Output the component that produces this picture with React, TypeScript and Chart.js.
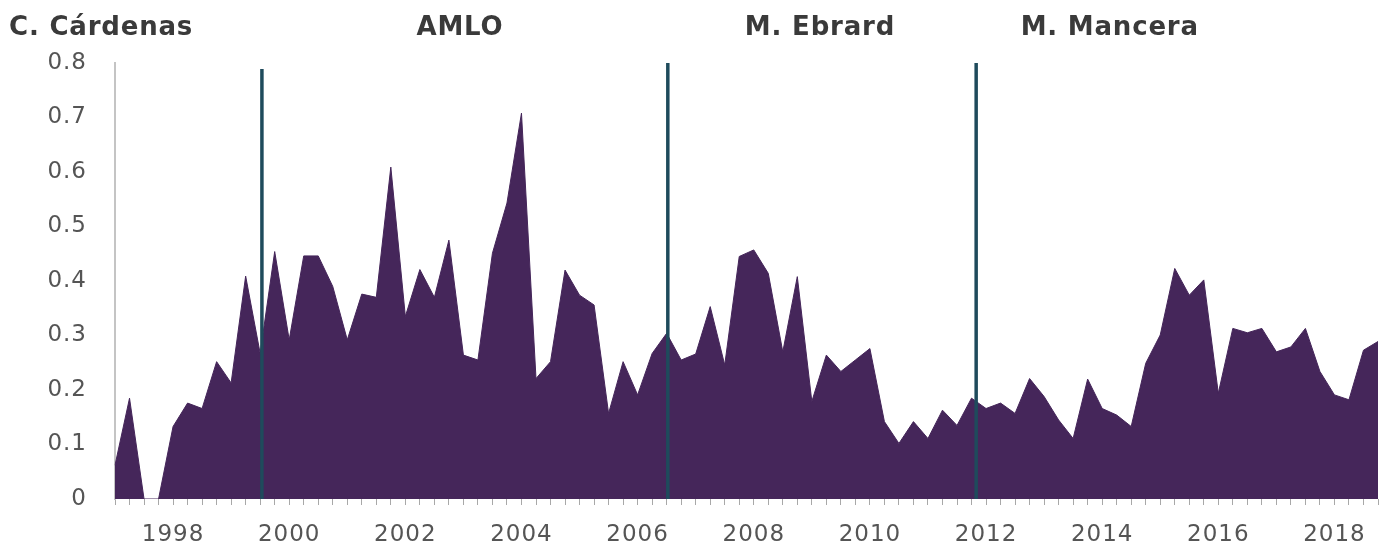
import React, { useEffect, useRef } from 'react';
import { Chart, registerables } from 'chart.js';

Chart.register(...registerables);

// Quarterly series, 1997 Q1 – 2018 Q4
const START_YEAR = 1997;
const values1997_2000 = [0.062, 0.185, 0, 0, 0.133, 0.176, 0.166, 0.252, 0.213, 0.409, 0.267, 0.454, 0.292, 0.446, 0.446, 0.390];
const values2001_2004 = [0.292, 0.376, 0.370, 0.609, 0.335, 0.421, 0.370, 0.475, 0.264, 0.255, 0.451, 0.543, 0.708, 0.221, 0.252, 0.420];
const values2005_2008 = [0.374, 0.356, 0.157, 0.252, 0.191, 0.267, 0.304, 0.255, 0.266, 0.353, 0.246, 0.445, 0.457, 0.414, 0.270, 0.408];
const values2009_2012 = [0.179, 0.264, 0.234, 0.255, 0.276, 0.142, 0.102, 0.142, 0.111, 0.163, 0.135, 0.185, 0.166, 0.176, 0.157, 0.221];
const values2013_2016 = [0.188, 0.145, 0.111, 0.220, 0.166, 0.154, 0.133, 0.249, 0.301, 0.423, 0.374, 0.402, 0.194, 0.313, 0.305, 0.313];
const values2017_2018 = [0.270, 0.279, 0.313, 0.234, 0.191, 0.182, 0.273, 0.289];

const values = [
  ...values1997_2000,
  ...values2001_2004,
  ...values2005_2008,
  ...values2009_2012,
  ...values2013_2016,
  ...values2017_2018,
];

// Category labels: "1997T1" ... one per quarter
const quarters: string[] = values.map((_, i) => `${START_YEAR + Math.floor(i / 4)}T${(i % 4) + 1}`);

// Year labels shown on the x axis (at Q1 of each)
const yearTickLabels = ['1998', '2000', '2002', '2004', '2006', '2008', '2010', '2012', '2014', '2016', '2018'];

// Y axis ticks
const yTicks = [0, 0.1, 0.2, 0.3, 0.4, 0.5, 0.6, 0.7, 0.8];

// Administration changes (decimal years) and top of each marker line
const markerYears = [1999.53, 2006.52, 2011.83];
const markerTops = [0.789, 0.8, 0.8];

// Period names and their centre (decimal years)
const periodNames = ['C. Cárdenas', 'AMLO', 'M. Ebrard', 'M. Mancera'];
const periodCenters = [1996.76, 2002.94, 2009.14, 2014.13];

const FILL = '#45265a';
const MARKER = '#1f4b5c';
const TICK_FONT = { family: '"DejaVu Sans", sans-serif', size: 23 };

const yearToIndex = (y: number) => (y - START_YEAR) * 4;

const spacing = {
  id: 'spacing',
  beforeDraw(chart: any) {
    chart.ctx.letterSpacing = '1px';
  },
};

const annotations = {
  id: 'annotations',
  afterDatasetsDraw(chart: any) {
    const { ctx, scales } = chart;
    const xs = scales.x;
    const ys = scales.y;
    ctx.save();
    ctx.strokeStyle = MARKER;
    ctx.lineWidth = 3.5;
    markerYears.forEach((yr, k) => {
      const px = xs.getPixelForValue(yearToIndex(yr));
      ctx.beginPath();
      ctx.moveTo(px, ys.getPixelForValue(markerTops[k]));
      ctx.lineTo(px, ys.getPixelForValue(0));
      ctx.stroke();
    });
    ctx.fillStyle = '#3a3a3a';
    ctx.font = 'bold 26px "DejaVu Sans", sans-serif';
    ctx.letterSpacing = '0.8px';
    ctx.textAlign = 'center';
    ctx.textBaseline = 'alphabetic';
    periodNames.forEach((name, k) => {
      const px = xs.getPixelForValue(yearToIndex(periodCenters[k]));
      ctx.fillText(name, px, 35);
    });
    ctx.restore();
  },
};

export default function App() {
  const canvasRef = useRef<HTMLCanvasElement | null>(null);

  useEffect(() => {
    if (!canvasRef.current) return;
    const chart = new Chart(canvasRef.current, {
      type: 'line',
      data: {
        labels: quarters,
        datasets: [
          {
            data: values,
            fill: 'origin',
            backgroundColor: FILL,
            borderColor: FILL,
            borderWidth: 1,
            pointRadius: 0,
            tension: 0,
          },
        ],
      },
      options: {
        animation: false,
        responsive: true,
        maintainAspectRatio: false,
        layout: { padding: { top: 63, right: 0, left: 0, bottom: 0 } },
        plugins: {
          legend: { display: false },
          tooltip: { enabled: false },
          title: { display: false },
        },
        scales: {
          x: {
            type: 'category',
            offset: false,
            grid: {
              display: true,
              drawOnChartArea: false,
              drawTicks: true,
              tickLength: 6,
              color: '#a8a8a8',
              lineWidth: 1,
            },
            border: { display: false },
            ticks: {
              autoSkip: false,
              maxRotation: 0,
              minRotation: 0,
              padding: 16,
              color: '#555555',
              font: TICK_FONT,
              callback: (_v: any, i: number) => {
                const q = quarters[i];
                if (!q || !q.endsWith('T1')) return '';
                const yr = q.slice(0, 4);
                return yearTickLabels.includes(yr) ? yr : '';
              },
            },
            afterFit: (s: any) => {
              s.height = 45;
              s.paddingRight = 6;
              s.paddingLeft = 0;
            },
          },
          y: {
            min: 0,
            max: 0.8,
            afterBuildTicks: (s: any) => {
              s.ticks = yTicks.map((v) => ({ value: v }));
            },
            grid: { display: false, drawTicks: false },
            border: { display: true, color: '#c4c4c4', width: 2 },
            ticks: {
              padding: 28,
              color: '#555555',
              font: TICK_FONT,
              callback: (v: any) => (Number(v) === 0 ? '0' : Number(v).toFixed(1)),
            },
            afterFit: (s: any) => {
              s.width = 115;
            },
          },
        },
      },
      plugins: [spacing, annotations],
    });
    return () => chart.destroy();
  }, []);

  return (
    <div style={{ position: 'absolute', left: 0, top: 0, width: 1384, height: 544, background: '#ffffff' }}>
      <canvas ref={canvasRef} />
    </div>
  );
}
